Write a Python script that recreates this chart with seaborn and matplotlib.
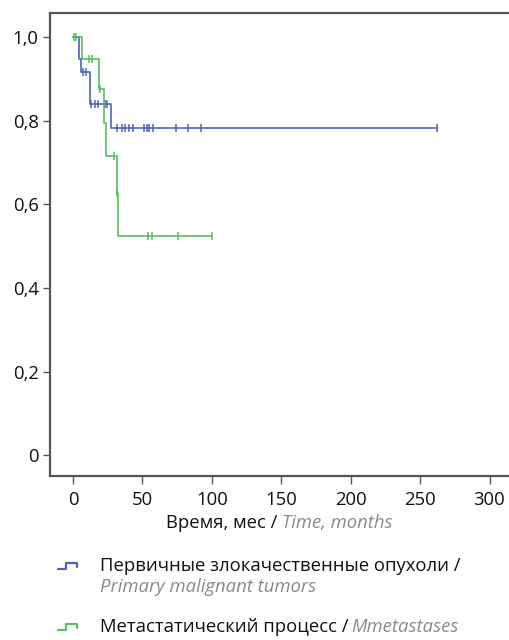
import numpy as np
import pandas as pd
import seaborn as sns
import matplotlib.pyplot as plt
from matplotlib.lines import Line2D

# Kaplan-Meier step curves (time in months, survival)
blue_t = [0, 4, 6, 12, 27, 262]
blue_s = [1.0, 0.947, 0.915, 0.84, 0.783, 0.783]
blue_cens = [7, 9, 13, 16, 18, 23, 24.5, 32, 35.5, 37.5, 40, 43.5, 51, 53, 55,
             57.5, 74, 83, 92, 262]

green_t = [0, 6.5, 19, 22, 24, 31.5, 32.5, 100]
green_s = [1.0, 0.947, 0.875, 0.795, 0.716, 0.627, 0.524, 0.524]
green_cens = [0.5, 2, 11.5, 14, 19.5, 29.5, 31.8, 54, 57, 75.5, 100]

x_ticks = [0, 50, 100, 150, 200, 250, 300]
y_ticks = [0, 0.2, 0.4, 0.6, 0.8, 1.0]
y_labels = ['0', '0,2', '0,4', '0,6', '0,8', '1,0']

lab_ru = ['Первичные злокачественные опухоли /', 'Метастатический процесс /']
lab_en = ['Primary malignant tumors', 'Mmetastases']

BLUE = '#4f63b6'
GREEN = '#55bf62'
GREY = '#8a8a8a'
FS = 13.3

sns.set_style('white')
plt.rcParams['font.family'] = ['Open Sans', 'DejaVu Sans']


def step_value(times, surv, t):
    i = np.searchsorted(times, t, side='right') - 1
    return surv[i]


curves = pd.DataFrame({
    't': blue_t + green_t,
    's': blue_s + green_s,
    'grp': ['blue'] * len(blue_t) + ['green'] * len(green_t),
})
cens = pd.DataFrame({
    't': blue_cens + green_cens,
    's': [step_value(blue_t, blue_s, t) for t in blue_cens]
         + [step_value(green_t, green_s, t) for t in green_cens],
    'grp': ['blue'] * len(blue_cens) + ['green'] * len(green_cens),
})
pal = {'blue': BLUE, 'green': GREEN}

fig = plt.figure(figsize=(5.09, 6.40), dpi=100)
ax = fig.add_axes([0.0982, 0.256, 0.9018, 0.7237])

sns.lineplot(data=curves, x='t', y='s', hue='grp', palette=pal, ax=ax,
             drawstyle='steps-post', lw=1.2, legend=False, estimator=None,
             sort=False)
sns.scatterplot(data=cens, x='t', y='s', hue='grp', palette=pal, ax=ax,
                marker='|', s=32, linewidth=1.1, legend=False)

ax.set_xlim(-16.6, 314)
ax.set_ylim(-0.05, 1.057)
ax.set_xticks(x_ticks)
ax.set_xticklabels([str(v) for v in x_ticks])
ax.set_yticks(y_ticks)
ax.set_yticklabels(y_labels)
ax.set_xlabel('')
ax.set_ylabel('')
ax.tick_params(axis='both', direction='out', length=5, width=1, color='#555555',
               labelsize=FS, labelcolor='#111111', pad=3)
ax.tick_params(axis='x', length=6, pad=5)
ax.tick_params(bottom=True, left=True)
ax.spines['right'].set_visible(False)
for sp in ['left', 'top', 'bottom']:
    ax.spines[sp].set_color('#555555')
    ax.spines[sp].set_linewidth(1.6)

# x label: black Russian part + grey italic English part, centred together
t1 = fig.text(0, 1 - 523 / 640, 'Время, мес / ', fontsize=FS, color='#111111',
              va='center', ha='left')
t2 = fig.text(0, 1 - 523 / 640, 'Time, months', fontsize=FS, color=GREY,
              style='italic', va='center', ha='left')
fig.canvas.draw()
r = fig.canvas.get_renderer()
w1 = t1.get_window_extent(r).width / fig.bbox.width
w2 = t2.get_window_extent(r).width / fig.bbox.width
x0 = 0.549 - (w1 + w2) / 2
t1.set_x(x0)
t2.set_x(x0 + w1)

# legend below the plot
handle_y = [1 - 566 / 640, 1 - 627 / 640]
for k, (col, hy) in enumerate(zip([BLUE, GREEN], handle_y)):
    hx = np.array([58, 66, 66, 77, 77]) / 509
    hyy = hy + np.array([-3, -3, 3, 3, -1]) / 640
    fig.add_artist(Line2D(hx, hyy, color=col, lw=1.6, transform=fig.transFigure))
    a = fig.text(100 / 509, hy, lab_ru[k], fontsize=FS, color='#111111',
                 va='center', ha='left')
    if k == 0:
        fig.text(100 / 509, hy - 21 / 640, lab_en[k], fontsize=FS, color=GREY,
                 style='italic', va='center', ha='left')
    else:
        fig.canvas.draw()
        wa = a.get_window_extent(r).width / fig.bbox.width
        fig.text(100 / 509 + wa + 0.006, hy, lab_en[k], fontsize=FS, color=GREY,
                 style='italic', va='center', ha='left')

fig.savefig('out.png', dpi=100)
